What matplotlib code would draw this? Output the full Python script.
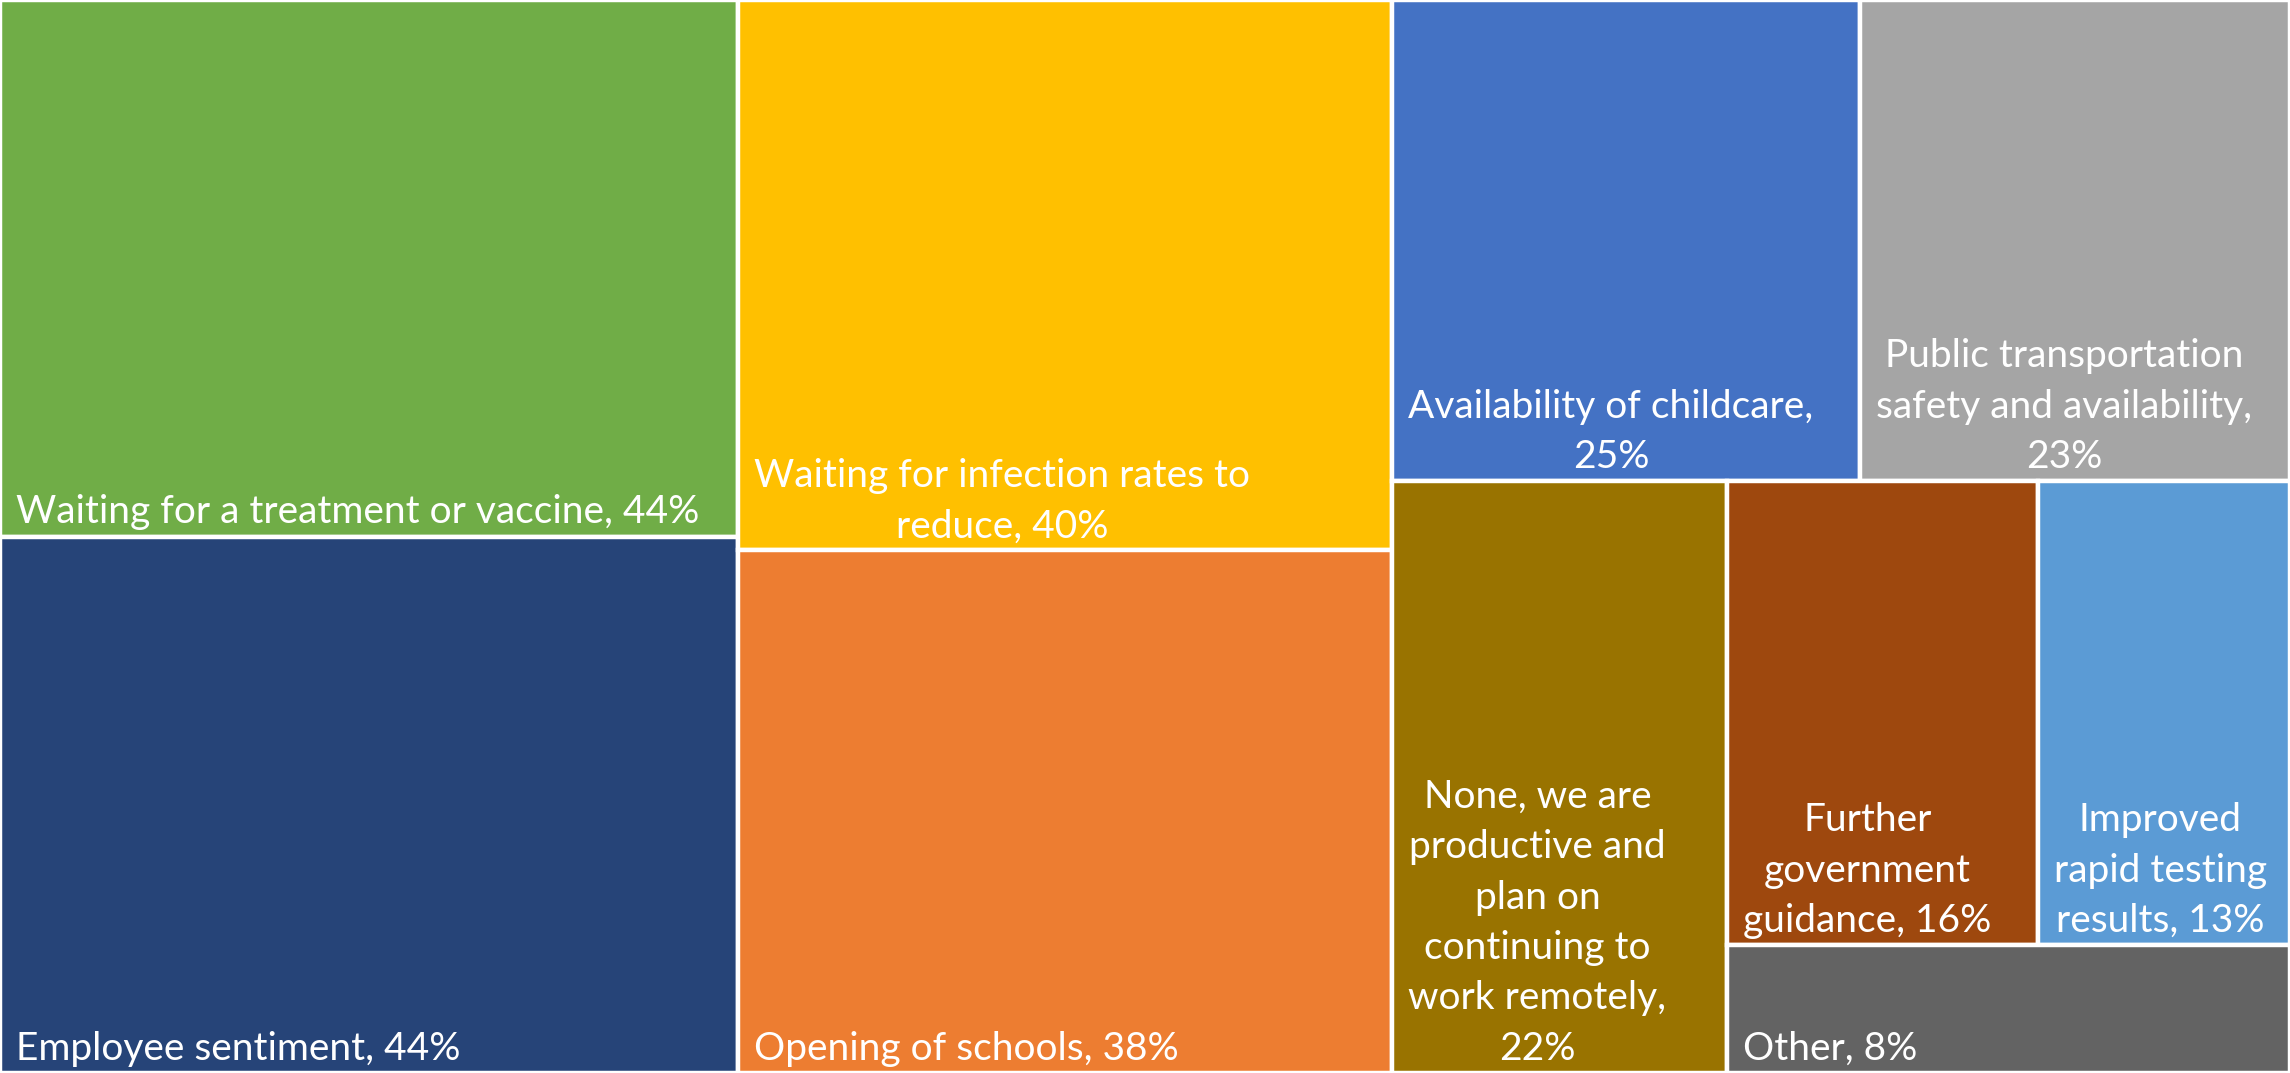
import matplotlib
matplotlib.use("Agg")
import matplotlib.pyplot as plt
from matplotlib.patches import Rectangle

# survey answers, share of respondents (%)
names = [
    "Waiting for a treatment or vaccine",
    "Employee sentiment",
    "Waiting for infection rates to\nreduce",
    "Opening of schools",
    "Availability of childcare",
    "Public transportation\nsafety and availability",
    "None, we are\nproductive and\nplan on\ncontinuing to\nwork remotely",
    "Further\ngovernment\nguidance",
    "Improved\nrapid testing\nresults",
    "Other",
]
values = [44, 44, 40, 38, 25, 23, 22, 16, 13, 8]
value_on_own_line = [False, False, False, False, True, True, True, False, False, False]
colors = ["#70AD47", "#264478", "#FFC000", "#ED7D31", "#4472C4",
          "#A5A5A5", "#997300", "#9E480E", "#5B9BD5", "#636363"]

W, H = 2290, 1073


def worst(row, side):
    s = sum(row)
    return max(max(side * side * r / (s * s), (s * s) / (side * side * r)) for r in row)


def squarify(vals, x, y, w, h):
    total = sum(vals)
    vals = [v * w * h / total for v in vals]
    rects = []
    while vals:
        side = min(w, h)
        row = [vals[0]]
        i = 1
        while i < len(vals) and worst(row + [vals[i]], side) <= worst(row, side):
            row.append(vals[i])
            i += 1
        s = sum(row)
        if w >= h:
            cw = s / h
            yy = y
            for v in row:
                rects.append((x, yy, cw, v / cw))
                yy += v / cw
            x += cw
            w -= cw
        else:
            rh = s / w
            xx = x
            for v in row:
                rects.append((xx, y, v / rh, rh))
                xx += v / rh
            y += rh
            h -= rh
        vals = vals[i:]
    return rects


fig = plt.figure(figsize=(W / 100, H / 100), dpi=100)
ax = fig.add_axes([0, 0, 1, 1])
ax.set_xlim(0, W)
ax.set_ylim(H, 0)
ax.axis("off")

for (x, y, w, h), name, v, own, c in zip(squarify(values, 0, 0, W, H),
                                          names, values, value_on_own_line, colors):
    ax.add_patch(Rectangle((x, y), w, h, facecolor=c, edgecolor="white", linewidth=3.2))
    label = name + (",\n" if own else ", ") + f"{v}%"
    ax.text(x + 16, y + h - 6, label, ha="left", va="bottom", multialignment="center",
            color="white", fontsize=28, family=["Lato", "DejaVu Sans"], linespacing=1.5)

fig.savefig("out.png", dpi=100)
